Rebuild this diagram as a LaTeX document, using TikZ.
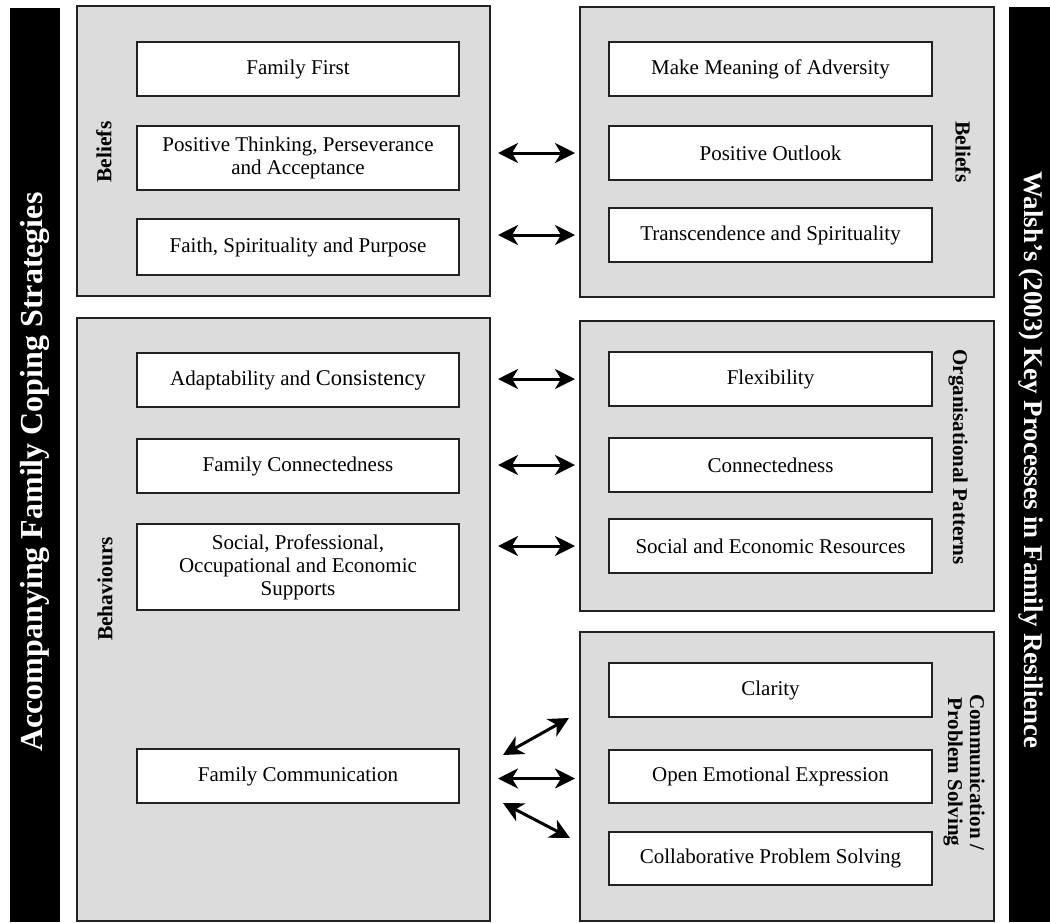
\documentclass[tikz,border=0pt]{standalone}
\usepackage{fontspec}
\setmainfont{Liberation Serif}
\usetikzlibrary{arrows.meta, positioning, calc}

\definecolor{panelgray}{HTML}{DCDCDC}
\definecolor{edgegray}{HTML}{222222}

\begin{document}
\begin{tikzpicture}[
    x=1pt, y=-1pt,
    font=\fontsize{21}{23}\selectfont,
    panel/.style = {draw=edgegray, fill=panelgray, line width=1.6pt, inner sep=0pt, outer sep=0pt},
    lbox/.style = {draw=edgegray, fill=white, line width=1.4pt, minimum width=322pt, minimum height=54pt, inner sep=0pt, outer sep=0pt, align=center},
    rbox/.style = {lbox, minimum width=323pt},
    side/.style = {font=\fontsize{21.5}{22}\selectfont\bfseries, align=center},
    bar/.style = {fill=black, inner sep=0pt, outer sep=0pt},
    bartext/.style = {text=white, font=\bfseries},
    biarrow/.style = {{Stealth[length=20pt, width=20pt, inset=6pt]}-{Stealth[length=20pt, width=20pt, inset=6pt]}, line width=3pt}
]
\useasboundingbox (0,0) rectangle (1050,922);

% =========================================================
% BLACK SIDE BARS
% =========================================================
\fill[bar] (10,8) rectangle (60,922);
\fill[bar] (1009,7) rectangle (1050,922);
\node[bartext, rotate=90, font=\fontsize{32}{34}\selectfont\bfseries] (acc) at (35,472) {Accompanying Family Coping Strategies};
\node[bartext, rotate=-90, font=\fontsize{27}{29}\selectfont\bfseries] (walsh) at (1031,460) {Walsh's (2003) Key Processes in Family Resilience};

% =========================================================
% PANELS (grey)
% =========================================================
\draw[panel] (77,6) rectangle (490,296);
\draw[panel] (77,318) rectangle (490,921);
\draw[panel] (580,7) rectangle (994,297);
\draw[panel] (580,321) rectangle (994,611);
\draw[panel] (580,632) rectangle (994,921);

\node[side, rotate=90] (belL) at (104,152) {Beliefs};
\node[side, rotate=90] (behL) at (105,589) {Behaviours};
\node[side, rotate=-90] (belR) at (963,152) {Beliefs};
\node[side, rotate=-90, font=\fontsize{21}{22}\selectfont\bfseries] (orgR) at (958,457) {Organisational Patterns};
\node[side, rotate=-90, font=\fontsize{21}{22}\selectfont\bfseries] (comR) at (964,772) {Communication /\\Problem Solving};

% =========================================================
% LEFT COLUMN: family coping strategies
% =========================================================
\node[lbox] (ff) at (298,69) {Family First};
\node[lbox, minimum height=64pt, below=30pt of ff] (ptpa) {Positive Thinking, Perseverance\\and Acceptance};
\node[lbox, minimum height=56pt, below=29pt of ptpa] (faith) {Faith, Spirituality and Purpose};

\node[lbox] (adapt) at (298,380) {Adaptability and {\fontsize{22.5}{24}\selectfont Consistency}};
\node[lbox, below=32pt of adapt] (fconn) {Family Connectedness};
\node[lbox, minimum height=86pt, below=31pt of fconn] (social) {Social, Professional,\\Occupational and Economic\\Supports};

\node[lbox] (fcomm) at (298,776) {Family Communication};

% =========================================================
% RIGHT COLUMN: Walsh's key processes
% =========================================================
\node[rbox] (mmoa) at (770.5,69) {Make Meaning of Adversity};
\node[rbox, below=30pt of mmoa] (outlook) {Positive Outlook};
\node[rbox, below=28pt of outlook] (transc) {Transcendence and Spirituality};

\node[rbox] (flex) at (770.5,379) {Flexibility};
\node[rbox, below=32pt of flex] (conn) {Connectedness};
\node[rbox, below=27pt of conn] (ser) {Social and Economic Resources};

\node[rbox] (clarity) at (770.5,690) {Clarity};
\node[rbox, minimum height=53pt, below=33pt of clarity] (oee) {Open Emotional Expression};
\node[rbox, minimum height=53pt, below=29pt of oee] (cps) {Collaborative Problem Solving};

% =========================================================
% LINKS (double arrows)
% =========================================================
\draw[biarrow] ($(ptpa.east |- outlook.west)+(39,0)$) -- ($(outlook.west)+(-34,0)$);
\draw[biarrow] ($(faith.east |- transc.west)+(39,0)$) -- ($(transc.west)+(-34,0)$);
\draw[biarrow] ($(adapt.east |- flex.west)+(39,0)$) -- ($(flex.west)+(-34,0)$);
\draw[biarrow] ($(fconn.east |- conn.west)+(39,0)$) -- ($(conn.west)+(-34,0)$);
\draw[biarrow] ($(social.east |- ser.west)+(39,0)$) -- ($(ser.west)+(-34,0)$);

% Family Communication fans out to three processes
\draw[biarrow] ($(fcomm.east)+(44,-21)$) -- ($(clarity.south west)+(-40,1)$);
\draw[biarrow] ($(fcomm.east |- oee.west)+(39,2)$) -- ($(oee.west)+(-34,2)$);
\draw[biarrow] ($(fcomm.east)+(44,27)$) -- ($(cps.north west)+(-39,6)$);

\end{tikzpicture}
\end{document}
